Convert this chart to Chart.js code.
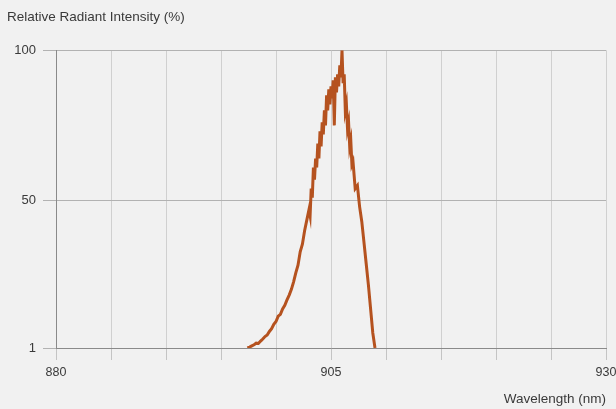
<!DOCTYPE html>
<html>
<head>
<meta charset="utf-8">
<script src="https://cdn.jsdelivr.net/npm/chart.js@4.4.1/dist/chart.umd.min.js"></script>
<style>
    html, body { margin: 0; padding: 0; background: #f1f1f1; }
    #wrap { width: 616px; height: 409px; }
</style>
</head>
<body>
<div id="wrap"><canvas id="spectrum"></canvas></div>
<script>
// --- DATOS ---
const wavelengths = [
    897.4, 897.6, 897.8, 898.0, 898.2, 898.4, 898.6, 898.8, 899.0, 899.2,
    899.4, 899.6, 899.8, 900.0, 900.2, 900.4, 900.6, 900.8, 901.0, 901.2,
    901.4, 901.6, 901.8, 902.0, 902.2, 902.4, 902.6, 902.8,
    903.0, 903.1, 903.2, 903.3, 903.4, 903.5, 903.6, 903.7, 903.8, 903.9,
    904.0, 904.1, 904.2, 904.3, 904.4, 904.5, 904.6, 904.7, 904.8, 904.9,
    905.0, 905.1, 905.2, 905.3, 905.4, 905.5, 905.6, 905.7, 905.8, 905.9,
    906.0, 906.1, 906.2, 906.3, 906.4, 906.5, 906.6, 906.7, 906.8, 906.9,
    907.0, 907.2, 907.4, 907.6, 907.8, 908.0, 908.2, 908.4, 908.6, 908.8,
    909.0
];
const intensity = [
    1, 1.3, 1.7, 2.1, 2.6, 2.5, 3.3, 4, 4.8, 5.3,
    6.5, 7.4, 8.9, 9.8, 11.6, 12.2, 14, 15.2, 17, 18.6,
    20.5, 23, 26, 28.5, 33, 35.5, 40, 43.5,
    47, 45, 54, 51, 61, 57, 64, 61, 69, 64,
    73, 68, 76, 72, 80, 75, 85, 80, 87, 82,
    88, 84, 90, 75, 91, 86, 92, 88, 95, 91,
    100, 89, 92, 80, 82, 74, 76, 68, 70, 62,
    63, 54, 55, 48, 43, 36, 29, 22, 14, 6,
    1
];
const xTickLabels = [880, 905, 930];
const yTicks = [1, 50, 100];

// --- ESTILO ---
Chart.defaults.font.family = "'Liberation Sans', Arial, sans-serif";
const textColor = '#3a3a3a';

const points = wavelengths.map((w, i) => ({ x: w, y: intensity[i] }));

new Chart(document.getElementById('spectrum'), {
    type: 'line',
    data: {
        datasets: [{
            data: points,
            borderColor: '#b5521f',
            borderWidth: 3,
            pointRadius: 0,
            tension: 0,
            fill: false
        }]
    },
    options: {
        responsive: true,
        maintainAspectRatio: false,
        animation: false,
        layout: { padding: { left: 7, right: 10, top: 0, bottom: 0 } },
        plugins: {
            legend: { display: false },
            tooltip: { enabled: false },
            title: {
                display: true,
                text: 'Relative Radiant Intensity (%)',
                align: 'start',
                color: textColor,
                font: { size: 13.5, weight: 'normal' },
                padding: { top: 9, bottom: 25 }
            }
        },
        scales: {
            x: {
                type: 'linear',
                min: 880,
                max: 930,
                afterFit: s => {
                    s.height = 61;
                    s.paddingLeft = 0;
                    s.paddingRight = 0;
                },
                ticks: {
                    stepSize: 5,
                    autoSkip: false,
                    maxRotation: 0,
                    padding: 5,
                    color: textColor,
                    font: { size: 12.5 },
                    callback: v => xTickLabels.includes(v) ? String(v) : ''
                },
                grid: { color: '#d0d0d0', tickColor: '#c4c4c4', tickLength: 12 },
                border: { color: '#8a8a8a' },
                title: {
                    display: true,
                    text: 'Wavelength (nm)',
                    align: 'end',
                    color: textColor,
                    font: { size: 13.5 },
                    padding: { top: 0, bottom: 2 }
                }
            },
            y: {
                min: 1,
                max: 100,
                afterFit: s => { s.width = 49; },
                afterBuildTicks: s => { s.ticks = yTicks.map(v => ({ value: v })); },
                ticks: {
                    padding: 7,
                    color: textColor,
                    font: { size: 13 },
                    callback: v => String(v)
                },
                grid: { color: '#b2b2b2', tickLength: 13 },
                border: { color: '#8a8a8a' }
            }
        }
    }
});
</script>
</body>
</html>
